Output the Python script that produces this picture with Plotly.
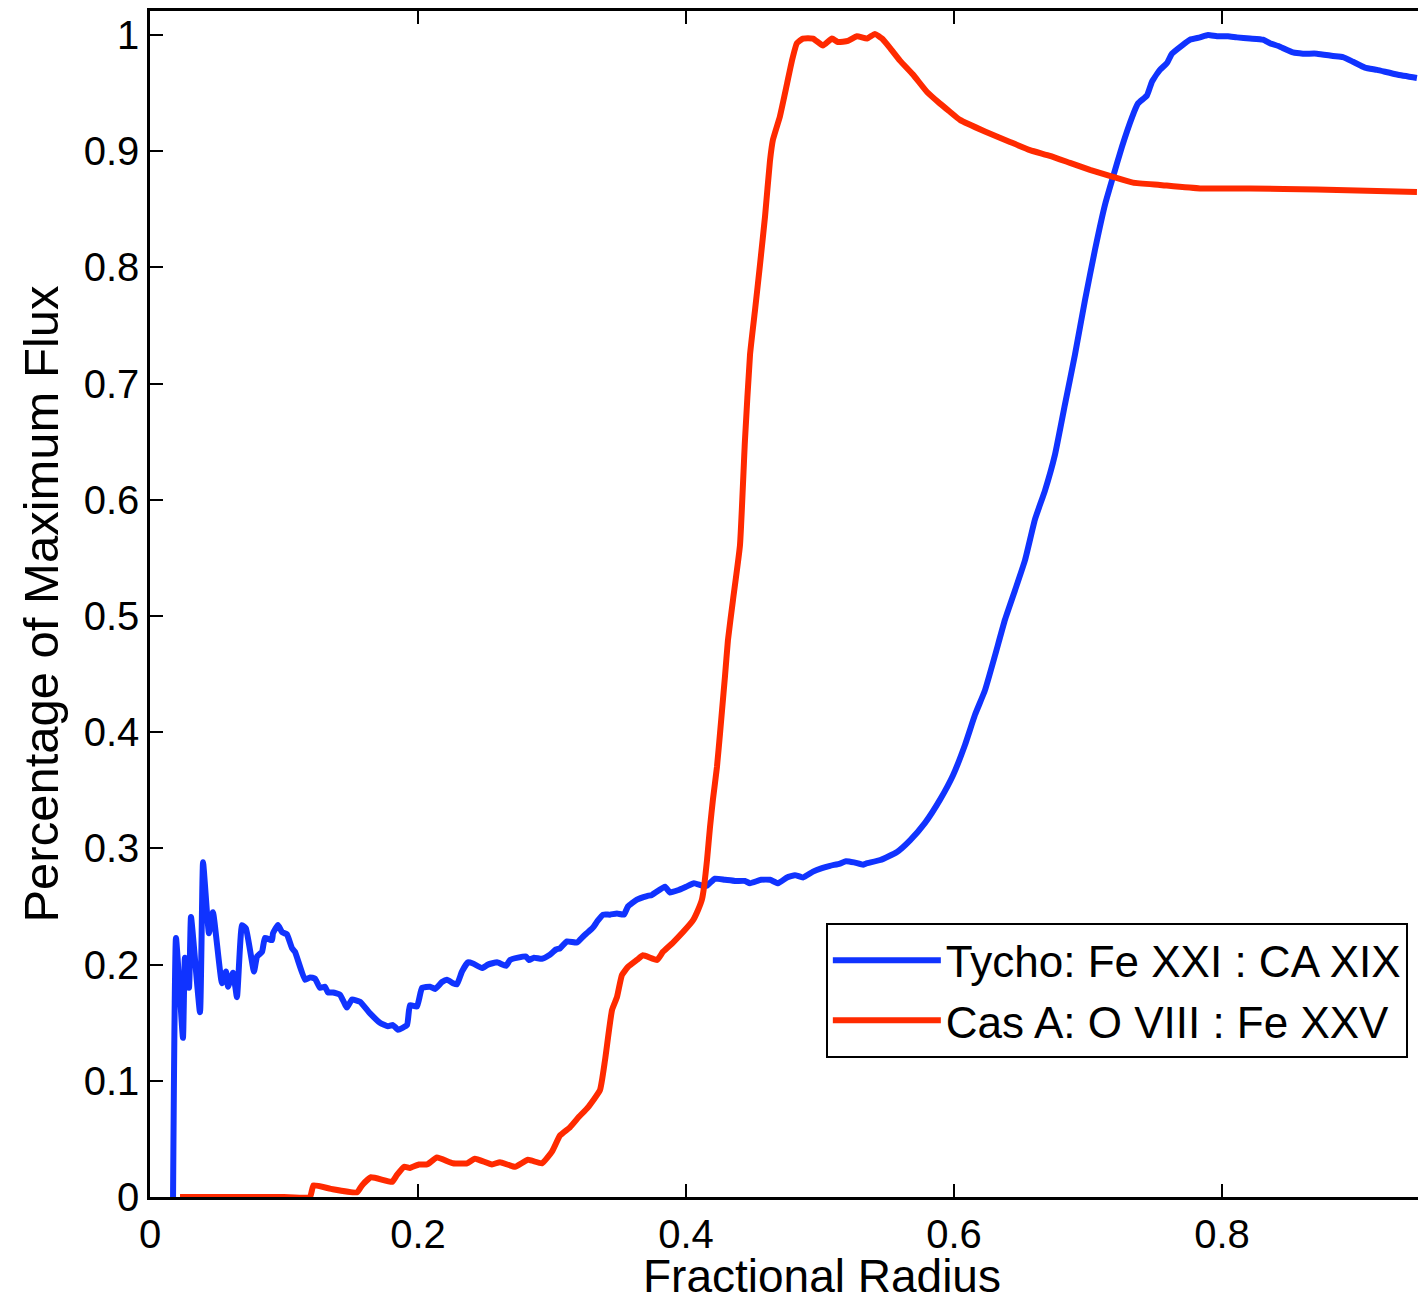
import plotly.graph_objects as go

# Tycho: Fe XXI : CA XIX (blue)
tycho_x = [0.0172, 0.0194, 0.0246, 0.0261, 0.0291, 0.0306, 0.0373, 0.0396, 0.0440, 0.0470,
           0.0537, 0.0567, 0.0582, 0.0619, 0.0649, 0.0687, 0.0716, 0.0776, 0.0799, 0.0836,
           0.0858, 0.0910, 0.0918, 0.0955, 0.0985, 0.1022, 0.1060, 0.1082, 0.1157, 0.1194,
           0.1231, 0.1269, 0.1306, 0.1328, 0.1366, 0.1418, 0.1470, 0.1507, 0.1567, 0.1642,
           0.1716, 0.1776, 0.1813, 0.1851, 0.1918, 0.1940, 0.1993, 0.2030, 0.2090, 0.2127,
           0.2179, 0.2216, 0.2261, 0.2291, 0.2328, 0.2373, 0.2410, 0.2478, 0.2522, 0.2590,
           0.2657, 0.2687, 0.2746, 0.2806, 0.2828, 0.2866, 0.2925, 0.2978, 0.3030, 0.3060,
           0.3112, 0.3187, 0.3231, 0.3269, 0.3306, 0.3343, 0.3381, 0.3433, 0.3485, 0.3537,
           0.3567, 0.3634, 0.3709, 0.3746, 0.3843, 0.3881, 0.3940, 0.4000, 0.4060, 0.4119,
           0.4157, 0.4216, 0.4291, 0.4366, 0.4440, 0.4478, 0.4560, 0.4627, 0.4687, 0.4754,
           0.4813, 0.4873, 0.4948, 0.5015, 0.5075, 0.5149, 0.5194, 0.5254, 0.5321, 0.5343,
           0.5450, 0.5575, 0.5672, 0.5784, 0.5896, 0.5993, 0.6082, 0.6157, 0.6231, 0.6306,
           0.6381, 0.6455, 0.6530, 0.6604, 0.6679, 0.6754, 0.6828, 0.6903, 0.6978, 0.7052,
           0.7127, 0.7187, 0.7254, 0.7328, 0.7373, 0.7440, 0.7478, 0.7537, 0.7590, 0.7627,
           0.7701, 0.7761, 0.7836, 0.7896, 0.7963, 0.8045, 0.8112, 0.8209, 0.8306, 0.8358,
           0.8433, 0.8530, 0.8604, 0.8709, 0.8828, 0.8903, 0.8978, 0.9067, 0.9157, 0.9306,
           0.9455]
tycho_y = [0.000, 0.223, 0.137, 0.206, 0.180, 0.241, 0.159, 0.288, 0.227, 0.245,
           0.184, 0.194, 0.181, 0.193, 0.172, 0.234, 0.231, 0.194, 0.207, 0.211,
           0.223, 0.221, 0.227, 0.234, 0.228, 0.226, 0.214, 0.211, 0.187, 0.189,
           0.188, 0.180, 0.181, 0.176, 0.176, 0.174, 0.163, 0.170, 0.168, 0.158,
           0.150, 0.147, 0.148, 0.144, 0.148, 0.165, 0.164, 0.180, 0.181, 0.179,
           0.185, 0.187, 0.184, 0.183, 0.194, 0.202, 0.201, 0.197, 0.200, 0.202,
           0.199, 0.204, 0.206, 0.207, 0.204, 0.206, 0.205, 0.208, 0.213, 0.214,
           0.220, 0.219, 0.224, 0.228, 0.232, 0.238, 0.243, 0.243, 0.244, 0.243,
           0.250, 0.256, 0.259, 0.260, 0.267, 0.262, 0.264, 0.267, 0.270, 0.268,
           0.268, 0.274, 0.273, 0.272, 0.272, 0.270, 0.273, 0.273, 0.270, 0.275,
           0.277, 0.275, 0.280, 0.283, 0.285, 0.287, 0.289, 0.288, 0.286, 0.287,
           0.290, 0.297, 0.307, 0.322, 0.342, 0.363, 0.389, 0.415, 0.436, 0.466,
           0.497, 0.522, 0.548, 0.583, 0.608, 0.639, 0.682, 0.725, 0.772, 0.815,
           0.854, 0.878, 0.904, 0.929, 0.941, 0.948, 0.960, 0.970, 0.976, 0.984,
           0.991, 0.996, 0.998, 1.000, 0.999, 0.999, 0.998, 0.997, 0.996, 0.993,
           0.990, 0.985, 0.984, 0.984, 0.982, 0.981, 0.977, 0.972, 0.970, 0.966,
           0.963]

# Cas A: O VIII : Fe XXV (red)
casa_x = [0.0224, 0.0500, 0.0800, 0.1000, 0.1194, 0.1220, 0.1350, 0.1545, 0.1582, 0.1649,
          0.1806, 0.1843, 0.1896, 0.1940, 0.2007, 0.2067, 0.2142, 0.2261, 0.2366, 0.2425,
          0.2552, 0.2612, 0.2724, 0.2821, 0.2925, 0.3000, 0.3060, 0.3134, 0.3201, 0.3267,
          0.3358, 0.3396, 0.3448, 0.3485, 0.3522, 0.3567, 0.3634, 0.3679, 0.3784, 0.3828,
          0.3903, 0.3978, 0.4052, 0.4090, 0.4119, 0.4135, 0.4157, 0.4179, 0.4201, 0.4231,
          0.4254, 0.4269, 0.4291, 0.4313, 0.4351, 0.4403, 0.4440, 0.4478, 0.4515, 0.4552,
          0.4590, 0.4627, 0.4649, 0.4701, 0.4754, 0.4791, 0.4828, 0.4873, 0.4948, 0.5022,
          0.5090, 0.5134, 0.5209, 0.5276, 0.5351, 0.5410, 0.5463, 0.5522, 0.5597, 0.5694,
          0.5799, 0.5896, 0.5970, 0.6045, 0.6231, 0.6418, 0.6567, 0.6716, 0.6866, 0.7015,
          0.7187, 0.7336, 0.7537, 0.7836, 0.8209, 0.8709, 0.9455]
casa_y = [0.000, 0.000, 0.000, 0.000, 0.000, 0.010, 0.007, 0.004, 0.010, 0.017,
          0.013, 0.019, 0.026, 0.025, 0.028, 0.028, 0.034, 0.029, 0.029, 0.033,
          0.028, 0.030, 0.026, 0.032, 0.029, 0.039, 0.053, 0.060, 0.069, 0.077,
          0.092, 0.118, 0.161, 0.172, 0.191, 0.198, 0.204, 0.208, 0.204, 0.211,
          0.219, 0.228, 0.238, 0.247, 0.256, 0.267, 0.290, 0.318, 0.342, 0.370,
          0.399, 0.419, 0.448, 0.479, 0.514, 0.561, 0.651, 0.725, 0.763, 0.802,
          0.844, 0.892, 0.910, 0.930, 0.958, 0.978, 0.993, 0.997, 0.997, 0.991,
          0.997, 0.994, 0.995, 0.999, 0.997, 1.001, 0.997, 0.989, 0.978, 0.966,
          0.951, 0.941, 0.934, 0.927, 0.917, 0.908, 0.901, 0.896, 0.890, 0.884,
          0.878, 0.873, 0.871, 0.868, 0.868, 0.867, 0.865]

x_ticks = [0, 0.2, 0.4, 0.6, 0.8]
x_labels = ["0", "0.2", "0.4", "0.6", "0.8"]
y_ticks = [0, 0.1, 0.2, 0.3, 0.4, 0.5, 0.6, 0.7, 0.8, 0.9, 1.0]
y_labels = ["0", "0.1", "0.2", "0.3", "0.4", "0.5", "0.6", "0.7", "0.8", "0.9", "1"]

FONT = "Liberation Sans, Arial, Helvetica, sans-serif"
BLUE = "#1033ff"
RED = "#ff2a00"

fig = go.Figure()
fig.add_trace(go.Scatter(x=tycho_x, y=tycho_y, mode="lines",
                         line=dict(color=BLUE, width=6, shape="spline", smoothing=0.4),
                         name="Tycho: Fe XXI : CA XIX"))
fig.add_trace(go.Scatter(x=casa_x, y=casa_y, mode="lines",
                         line=dict(color=RED, width=6, shape="spline", smoothing=0.4),
                         name="Cas A: O VIII : Fe XXV"))

fig.update_layout(
    width=1418, height=1303,
    margin=dict(l=150, r=0, t=11, b=106),
    paper_bgcolor="white", plot_bgcolor="white",
    font=dict(family=FONT, color="black", size=40),
    showlegend=True,
    legend=dict(x=0.533, y=0.231, xanchor="left", yanchor="top",
                bgcolor="white", bordercolor="black", borderwidth=2,
                font=dict(size=44, family=FONT, color="black"),
                tracegroupgap=0, itemwidth=108),
    annotations=[dict(text="Fractional Radius", xref="paper", yref="paper",
                      x=0.530, y=-0.0670, xanchor="center", yanchor="middle",
                      borderpad=0, showarrow=False,
                      font=dict(size=46, family=FONT, color="black"))],
)
fig.update_xaxes(range=[0, 0.9463], tickvals=x_ticks, ticktext=x_labels,
                 ticks="inside", ticklen=13, tickwidth=1.5, tickcolor="black",
                 showline=True, linecolor="black", linewidth=2.5, mirror="ticks",
                 showgrid=False, zeroline=False,
                 tickfont=dict(size=40, family=FONT))
fig.update_yaxes(range=[0, 1.0207], tickvals=y_ticks, ticktext=y_labels,
                 ticks="inside", ticklen=13, tickwidth=1.5, tickcolor="black",
                 showline=True, linecolor="black", linewidth=2.5, mirror=False,
                 showgrid=False, zeroline=False,
                 tickfont=dict(size=40, family=FONT),
                 title=dict(text="Percentage of Maximum Flux", font=dict(size=49, family=FONT), standoff=10))

fig.write_html("out.html")
